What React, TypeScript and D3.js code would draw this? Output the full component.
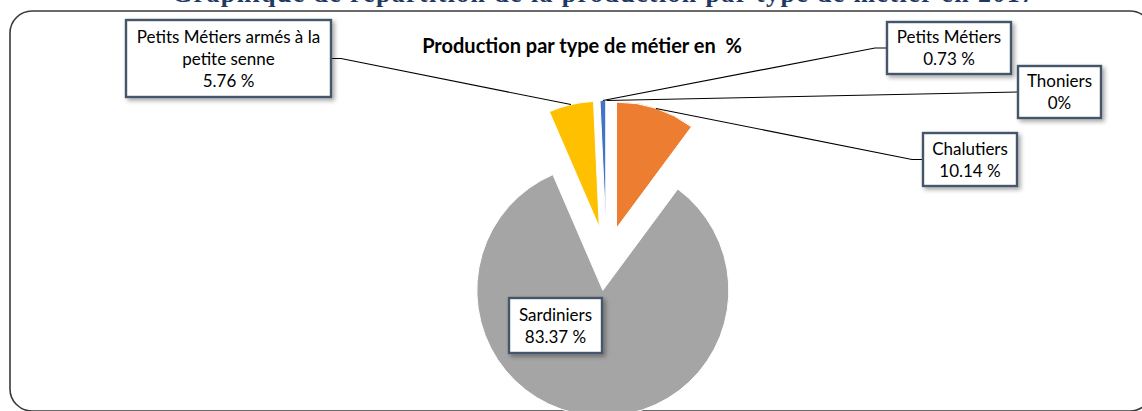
import React from "react";
import * as d3 from "d3";

const categories = [
  "Chalutiers",
  "Sardiniers",
  "Petits Métiers armés à la petite senne",
  "Petits Métiers",
  "Thoniers",
];
const values = [10.14, 83.37, 5.76, 0.73, 0];
const valueLabels = ["10.14 %", "83.37 %", "5.76 %", "0.73 %", "0%"];
const colors = ["#ED7D31", "#A5A5A5", "#FFC000", "#4472C4", "#5B9BD5"];
const labelLines = [
  ["Chalutiers"],
  ["Sardiniers"],
  ["Petits Métiers armés à la", "petite senne"],
  ["Petits Métiers"],
  ["Thoniers"],
];
const chartTitle = "Production par type de métier en  %";
const pageTitle = "Graphique de répartition de la production par type de métier en 2017";

const W = 1142;
const H = 411;
const CX = 606.5;
const CY = 258.5;
const R = 126;
const EXPLODE = 32;

// label box layout
const boxes = [
  { x: 923, y: 133, w: 94, h: 53, side: "left", elbow: 11 },
  { x: 509, y: 298, w: 93, h: 55, side: "none", elbow: 0 },
  { x: 126, y: 20, w: 205, h: 77, side: "right", elbow: 10 },
  { x: 887, y: 22, w: 124, h: 52, side: "left", elbow: 12 },
  { x: 1018, y: 66, w: 83, h: 52, side: "left", elbow: 0 },
];

export default function App() {
  const pie = d3
    .pie<number>()
    .sort(null)
    .startAngle(0)
    .endAngle(2 * Math.PI)
    .value((d) => d);
  const arcs = pie(values);
  const arc = d3.arc<d3.PieArcDatum<number>>().innerRadius(0).outerRadius(R);
  const outerArc = d3.arc<d3.PieArcDatum<number>>().innerRadius(R).outerRadius(R);

  const offset = (a: d3.PieArcDatum<number>) => {
    const mid = (a.startAngle + a.endAngle) / 2;
    return [EXPLODE * Math.sin(mid), -EXPLODE * Math.cos(mid)];
  };

  return (
    <svg
      width={W}
      height={H}
      style={{ position: "absolute", left: 0, top: 0, background: "#fff" }}
    >
      <defs>
        <filter id="sh" x="-20%" y="-20%" width="150%" height="160%">
          <feDropShadow dx="2.5" dy="2.5" stdDeviation="2" floodColor="#000" floodOpacity="0.35" />
        </filter>
      </defs>
      <rect x={0} y={0} width={W} height={H} fill="#fff" />
      <text
        x={603}
        y={1.5}
        textAnchor="middle"
        fontFamily="'Liberation Serif', serif"
        fontWeight="bold"
        fontSize={26}
        textLength={862}
        lengthAdjust="spacing"
        fill="#1F3864"
      >
        {pageTitle}
      </text>
      <rect
        x={10}
        y={11}
        width={1142}
        height={400}
        rx={22}
        ry={22}
        fill="#fff"
        stroke="#3a3a3a"
        strokeWidth={1.6}
      />
      <text
        x={582}
        y={53}
        textAnchor="middle"
        fontFamily="Lato, 'Open Sans', sans-serif"
        fontWeight="bold"
        fontSize={20}
        fill="#000"
        style={{ whiteSpace: "pre" }}
      >
        {chartTitle}
      </text>
      <g>
        {arcs.map((a, i) => {
          if (a.value === 0) return null;
          const [dx, dy] = offset(a);
          return (
            <path
              key={categories[i]}
              d={arc(a) || ""}
              transform={`translate(${CX + dx},${CY + dy})`}
              fill={colors[i]}
              stroke="#fff"
              strokeWidth={1}
            />
          );
        })}
      </g>
      <g>
        {arcs.map((a, i) => {
          const b = boxes[i];
          if (b.side === "none") return null;
          const [dx, dy] = offset(a);
          const [px, py] = outerArc.centroid(a);
          const tx = CX + dx + px;
          const ty = CY + dy + py;
          const my = b.y + b.h / 2;
          const sx = b.side === "left" ? b.x : b.x + b.w;
          const ex = b.side === "left" ? sx - b.elbow : sx + b.elbow;
          const p = d3.path();
          p.moveTo(sx, my);
          p.lineTo(ex, my);
          p.lineTo(tx, ty);
          return (
            <path key={"l" + i} d={p.toString()} fill="none" stroke="#000" strokeWidth={1.1} />
          );
        })}
      </g>
      <g fontFamily="Lato, 'Open Sans', sans-serif" fontSize={17} fill="#000">
        {boxes.map((b, i) => {
          const lines = [...labelLines[i], valueLabels[i]];
          const lh = 22;
          const cx = b.x + b.w / 2;
          const startY = b.y + b.h / 2 - ((lines.length - 1) * lh) / 2;
          return (
            <g key={"b" + i}>
              <rect
                x={b.x}
                y={b.y}
                width={b.w}
                height={b.h}
                fill="#fff"
                stroke="#44546A"
                strokeWidth={2.4}
                filter="url(#sh)"
              />
              {lines.map((t, j) => (
                <text
                  key={j}
                  x={cx}
                  y={startY + j * lh}
                  dy="0.36em"
                  textAnchor="middle"
                >
                  {t}
                </text>
              ))}
            </g>
          );
        })}
      </g>
    </svg>
  );
}
